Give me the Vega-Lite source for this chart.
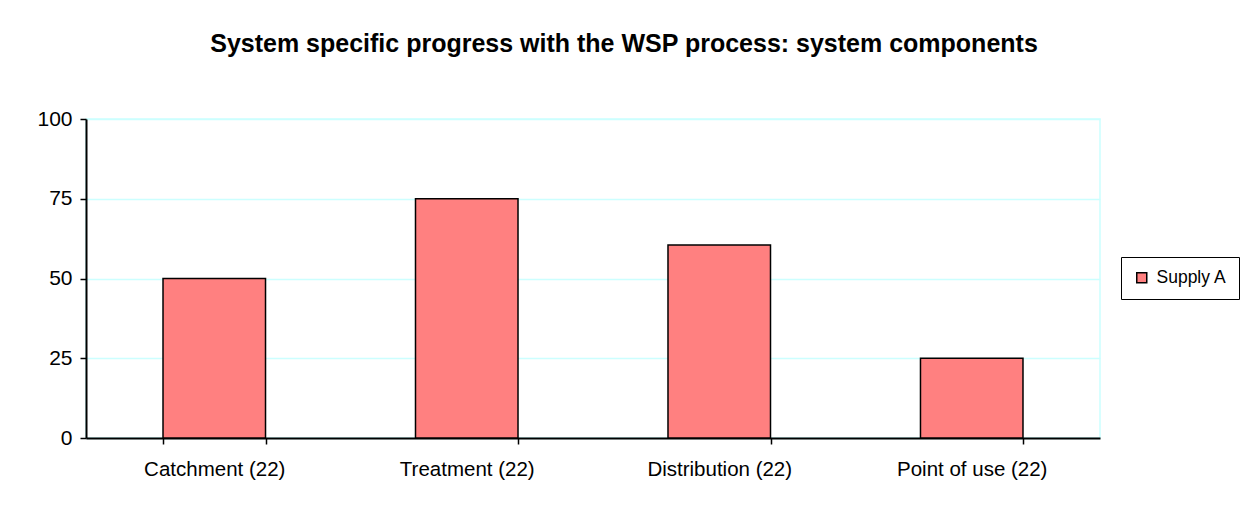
{
  "$schema": "https://vega.github.io/schema/vega-lite/v6.json",
  "autosize": {"type": "none"},
  "width": 1014,
  "height": 319,
  "padding": {"left": 86, "top": 119, "right": 147, "bottom": 72},
  "background": "white",
  "title": {
    "text": "System specific progress with the WSP process: system components",
    "font": "Liberation Sans",
    "fontSize": 25,
    "fontWeight": "bold",
    "color": "black",
    "anchor": "middle",
    "dx": 31,
    "offset": 51
  },
  "data": {
    "values": [
      {"component": "Catchment (22)", "value": 50, "series": "Supply A"},
      {"component": "Treatment (22)", "value": 75, "series": "Supply A"},
      {"component": "Distribution (22)", "value": 60.5, "series": "Supply A"},
      {"component": "Point of use (22)", "value": 25, "series": "Supply A"}
    ]
  },
  "mark": {"type": "bar", "stroke": "black", "strokeWidth": 1.5},
  "encoding": {
    "x": {
      "field": "component",
      "type": "nominal",
      "sort": null,
      "scale": {"paddingInner": 0.594, "paddingOuter": 0.305},
      "axis": {
        "title": null,
        "labelAngle": 0,
        "labelFont": "Liberation Sans",
        "labelFontSize": 20.5,
        "labelColor": "black",
        "labelPadding": 15,
        "tickBand": "extent",
        "tickColor": "black",
        "tickSize": 6,
        "tickWidth": 1.5,
        "domainColor": "black",
        "domainWidth": 2,
        "grid": false
      }
    },
    "y": {
      "field": "value",
      "type": "quantitative",
      "scale": {"domain": [0, 100]},
      "axis": {
        "title": null,
        "values": [0, 25, 50, 75, 100],
        "labelFont": "Liberation Sans",
        "labelFontSize": 21,
        "labelColor": "black",
        "labelPadding": 8,
        "tickColor": "black",
        "tickSize": 6,
        "tickWidth": 1.5,
        "domainColor": "black",
        "domainWidth": 2,
        "grid": true,
        "gridColor": "#ccffff",
        "gridWidth": 1.5
      }
    },
    "fill": {
      "field": "series",
      "type": "nominal",
      "scale": {"range": ["#ff8080"]},
      "legend": {
        "title": null,
        "orient": "none",
        "legendX": 1035,
        "legendY": 138,
        "symbolType": "square",
        "symbolSize": 100,
        "symbolStrokeColor": "black",
        "symbolStrokeWidth": 1.5,
        "labelFont": "Liberation Sans",
        "labelFontSize": 17.5,
        "labelColor": "black",
        "labelOffset": 6,
        "padding": 12,
        "strokeColor": "black",
        "fillColor": "white"
      }
    }
  },
  "config": {
    "view": {"stroke": "#ccffff", "strokeWidth": 1.5}
  }
}
